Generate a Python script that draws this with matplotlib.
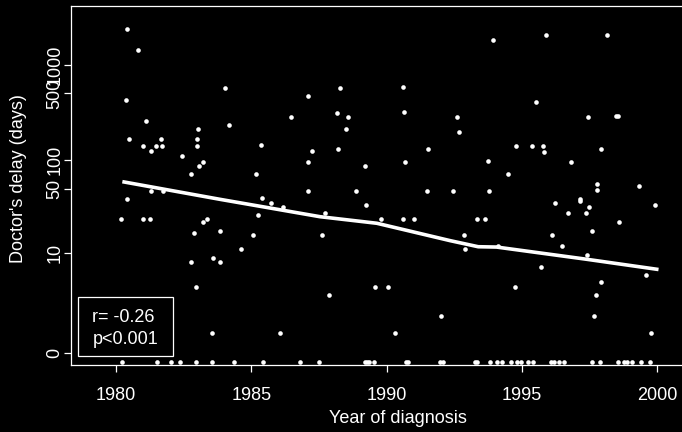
import numpy as np
import matplotlib.pyplot as plt


# delay data: year of diagnosis and doctor's delay in days
years = [
    1980.42, 1980.80, 1980.38, 1981.11, 1980.48, 1981.00, 1981.30, 1981.47, 1981.65, 1981.70,
    1983.04, 1982.99, 1982.99, 1982.45, 1983.23, 1983.07, 1982.77, 1984.03, 1984.19, 1981.28,
    1981.73, 1980.42, 1987.09, 1988.27, 1990.62, 1986.47, 1988.16, 1988.58, 1990.65, 1988.51,
    1985.35, 1987.26, 1988.21, 1991.52, 1987.09, 1989.21, 1990.67, 1985.19, 1987.11, 1988.86,
    1991.50, 1985.41, 1993.94, 1995.91, 1998.15, 1995.53, 1992.62, 1997.45, 1998.47, 1998.57,
    1992.69, 1994.78, 1995.38, 1995.80, 1995.81, 1997.94, 1993.74, 1996.81, 1994.49, 1997.79,
    1997.79, 1999.33, 1992.46, 1993.78, 1997.15, 1980.20, 1981.01, 1981.27, 1983.23, 1983.38,
    1982.89, 1983.83, 1982.76, 1983.60, 1983.83, 1982.97, 1983.56, 1985.73, 1986.18, 1985.24,
    1989.23, 1987.74, 1989.80, 1990.60, 1991.01, 1985.06, 1987.63, 1984.61, 1989.56, 1990.07,
    1987.86, 1986.06, 1990.33, 1992.03, 1996.23, 1997.15, 1997.49, 1997.38, 1996.70, 1999.91,
    1993.35, 1993.64, 1998.61, 1992.87, 1992.89, 1994.12, 1996.13, 1997.60, 1996.49, 1997.42,
    1995.72, 1999.58, 1997.94, 1997.73, 1994.75, 1997.66, 1999.77,
]
delay = [
    2340, 1410, 425, 256, 166, 140, 124, 140, 166, 140,
    211, 166, 140, 110, 95, 88, 71, 567, 233, 47,
    47, 39, 468, 567, 581, 282, 311, 282, 318, 211,
    144, 124, 130, 130, 95, 88, 95, 71, 47, 47,
    47, 40, 1795, 2020, 2020, 405, 282, 282, 289, 289,
    197, 140, 140, 140, 121, 130, 98, 95, 71, 56,
    48, 54, 47, 47, 39, 23.5, 23.5, 23.5, 21.8, 23.5,
    16.5, 17.4, 7.8, 8.6, 7.8, 3.8, 0.6, 35, 31.7, 26,
    33.3, 27.3, 23.5, 23.5, 23.5, 15.7, 15.7, 10.9, 3.8, 3.8,
    3.0, 0.6, 0.6, 1.4, 35, 36.8, 31.7, 27.3, 27.3, 33.3,
    23.5, 23.5, 21.8, 15.7, 10.9, 11.8, 15.7, 17.4, 11.8, 9.3,
    6.9, 5.4, 4.5, 3.0, 3.8, 1.4, 0.6,
]

# patients with no delay (0 days)
years_zero = [
    1980.22, 1981.52, 1982.02, 1982.38, 1982.95, 1983.56, 1984.35, 1985.43, 1986.80, 1987.52,
    1989.19, 1989.28, 1989.35, 1989.53, 1990.71, 1990.79, 1991.99, 1992.10, 1993.27, 1993.36,
    1993.82, 1994.10, 1994.26, 1994.59, 1994.82, 1994.97, 1995.23, 1995.41, 1996.09, 1996.18,
    1996.39, 1996.56, 1997.61, 1997.90, 1998.57, 1998.79, 1998.90, 1999.09, 1999.42, 1999.73,
]

# smoothed trend (days)
trend_years = [1980.30, 1983.84, 1987.54, 1989.64, 1992.35, 1993.39, 1994.07, 1997.40, 1999.99]
trend_days = [59, 38.6, 25.1, 21.3, 13.7, 11.7, 11.6, 8.4, 6.4]

tick_years = [1980, 1985, 1990, 1995, 2000]
tick_days = [0, 10, 50, 100, 500, 1000]


def tr(d):
    return np.log10(np.asarray(d, dtype=float) + 1)


plt.rcParams["font.family"] = ["Liberation Sans", "DejaVu Sans"]

fig = plt.figure(figsize=(6.82, 4.32), dpi=100, facecolor="black")
ax = fig.add_axes([71 / 682, 67 / 432, 654 / 682, 359 / 432])
ax.set_facecolor("black")

ax.scatter(years, tr(delay), s=11, color="white", linewidths=0, zorder=3)
# zero delays sit just under the 0 tick
ax.scatter(years_zero, np.zeros(len(years_zero)) - 0.1, s=11, color="white",
           linewidths=0, zorder=3)
ax.plot(trend_years, tr(trend_days), color="white", lw=2.6, zorder=4)

ax.set_xlim(1978.336, 2002.514)
ax.set_ylim(-0.128, 3.611)

ax.set_xticks(tick_years)
ax.set_xticklabels([str(y) for y in tick_years])
ax.set_yticks(tr(tick_days))
ax.set_yticklabels([str(d) for d in tick_days], rotation=90, va="center")

for s in ax.spines.values():
    s.set_color("white")
    s.set_linewidth(0.9)
ax.tick_params(colors="white", labelcolor="white", labelsize=13, length=5, width=0.9)
ax.tick_params(axis="x", pad=10.5)
ax.tick_params(axis="y", pad=0.3)

ax.set_xlabel("Year of diagnosis", color="white", fontsize=13)
ax.xaxis.set_label_coords(0.5, -0.124)
ax.set_ylabel("Doctor's delay (days)", color="white", fontsize=13)
ax.yaxis.set_label_coords(-0.068, 0.52)

# correlation box
ax.add_patch(plt.Rectangle((0.0112, 0.026), 0.1448, 0.1626, transform=ax.transAxes,
                           fill=False, edgecolor="white", lw=0.9, zorder=5))
ax.text(0.0326, 0.1337, "r= -0.26", transform=ax.transAxes, color="white",
        fontsize=13, va="center", ha="left")
ax.text(0.0326, 0.0724, "p<0.001", transform=ax.transAxes, color="white",
        fontsize=13, va="center", ha="left")

fig.savefig("out.png", dpi=100, facecolor="black")
